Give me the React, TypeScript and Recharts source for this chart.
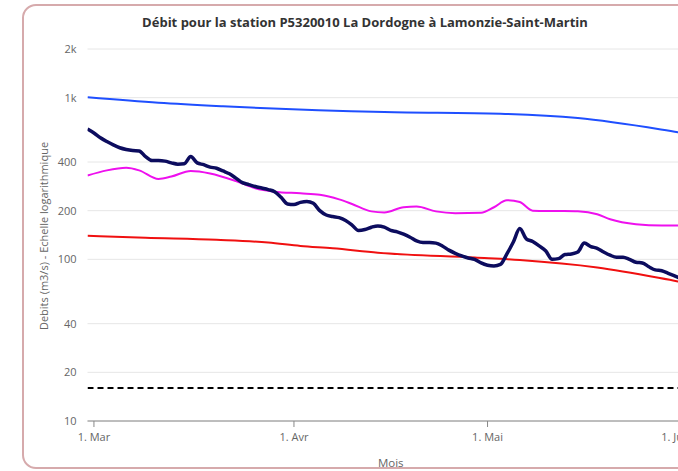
import { LineChart, Line, XAxis, YAxis, CartesianGrid } from "recharts";

// axe X : jours depuis le 1er mars (-1 = 29 fév.)
const monthTicks = [0, 31, 61, 92];
const monthLabels = ["1. Mar", "1. Avr", "1. Mai", "1. Juin"];
const yTicks = [10, 20, 40, 100, 200, 400, 1000, 2000];

// débit observé, journalier à partir du 29 février
const debitValues = [
  640, 605, 565, 535, 510, 490, 478, 471, 468, 432,
  408, 408, 405, 395, 388, 390, 432, 395, 385, 372,
  366, 352, 338, 318, 298, 290, 282, 276, 270, 262,
  242, 220, 218, 225, 228, 222, 200, 188, 184, 181,
  174, 163, 151, 153, 158, 161, 158, 151, 148, 143,
  137, 130, 127, 127, 126, 121, 114, 109, 105, 102,
  100, 95, 92, 91, 93, 108, 128, 155, 134, 129,
  121, 113, 100, 101, 107, 108, 111, 126, 120, 117,
  111, 106, 103, 103, 100, 96, 95, 90, 86, 85,
  82, 79, 76, 74,
];

const hautDays = [-1, 10, 20, 45, 63, 75, 90.5, 93];
const hautValues = [1005, 930, 885, 815, 795, 748, 612, 590];

const moyenDays = [-1, 2, 5, 7, 10, 12, 15, 18, 22, 25, 28, 32, 35, 38, 40, 43, 45, 48, 50, 53, 56, 60, 62, 64, 66, 68, 72, 75, 78, 80, 84, 88, 93];
const moyenValues = [330, 355, 368, 355, 314, 325, 352, 340, 305, 275, 262, 256, 251, 235, 220, 198, 195, 210, 212, 198, 193, 194, 210, 232, 226, 200, 199, 198, 190, 177, 165, 162, 162];

const basDays = [-1, 8, 19, 27, 32, 37, 44, 59, 66, 78, 90.5, 93];
const basValues = [140, 136, 132, 127, 121, 117, 110, 102.5, 99, 89, 73, 70];

const seuilDays = [-1, 93];
const seuilValues = [16, 16];

const zip = (days: number[], values: number[]) => days.map((d, i) => ({ day: d, value: values[i] }));

const debitData = debitValues.map((v, i) => ({ day: i - 1, value: v }));
const hautData = zip(hautDays, hautValues);
const moyenData = zip(moyenDays, moyenValues);
const basData = zip(basDays, basValues);
const seuilData = zip(seuilDays, seuilValues);

const FONT = '"Open Sans", "Noto Sans", sans-serif';

function formatY(v: number): string {
  return v >= 1000 ? `${v / 1000}k` : String(v);
}

function formatX(v: number): string {
  const idx = monthTicks.indexOf(v);
  return idx >= 0 ? monthLabels[idx] : "";
}

// dernière étiquette recalée dans le graphique (comme le "justify" de l'original)
function MonthTick(props: any) {
  const { x, y, payload } = props;
  const last = payload.value === monthTicks[monthTicks.length - 1];
  return (
    <text
      x={last ? x + 5 : x}
      y={y + 10}
      textAnchor={last ? "end" : "middle"}
      fontSize={11}
      fill="#666"
      fontFamily={FONT}
    >
      {formatX(payload.value)}
    </text>
  );
}

export default function App() {
  return (
    <div style={{ position: "absolute", left: 0, top: 0, width: 678, height: 471, overflow: "hidden", background: "#fff", fontFamily: FONT }}>
      <div
        style={{
          position: "absolute",
          left: 22,
          top: 4,
          width: 740,
          height: 465,
          border: "2px solid #d6aaac",
          borderRadius: 14,
          boxSizing: "border-box",
          background: "#fff",
        }}
      >
        <div
          style={{
            position: "absolute",
            left: 0,
            top: 8,
            width: 682,
            textAlign: "center",
            fontSize: 13,
            fontWeight: 700,
            color: "#333",
            lineHeight: "17px",
          }}
        >
          Débit pour la station P5320010 La Dordogne à Lamonzie-Saint-Martin
        </div>
        <div style={{ position: "absolute", left: 0, top: 0 }}>
          <LineChart width={690} height={464} margin={{ top: 43, right: 20, bottom: 4, left: 0 }}>
            <CartesianGrid horizontal vertical={false} stroke="#e6e6e6" />
            <XAxis
              type="number"
              dataKey="day"
              domain={[-1, 93]}
              ticks={monthTicks}
              interval={0}
              height={45}
              stroke="#888"
              tickSize={6}
              tickMargin={4}
              tick={<MonthTick />}
              allowDataOverflow
              label={(p: any) => {
                const vb = p.viewBox || { x: 63.5, y: 415, width: 606.5 };
                return (
                  <text x={vb.x + vb.width / 2} y={vb.y + 41} textAnchor="middle" dominantBaseline="central" fontSize={11.5} fill="#666" fontFamily={FONT}>
                    Mois
                  </text>
                );
              }}
            />
            <YAxis
              type="number"
              scale="log"
              domain={[10, 2000]}
              ticks={yTicks}
              interval={0}
              allowDataOverflow
              width={63.5}
              axisLine={false}
              tickLine={false}
              tickSize={0}
              tickMargin={11}
              tickFormatter={formatY}
              tick={{ fontSize: 11, fill: "#666", fontFamily: FONT }}
              label={(p: any) => {
                const vb = p.viewBox || { x: 0, y: 43, height: 372 };
                const cx = 19;
                const cy = vb.y + vb.height / 2 + 1;
                return (
                  <text x={cx} y={cy} transform={`rotate(-90, ${cx}, ${cy})`} textAnchor="middle" dominantBaseline="central" fontSize={11} fill="#666" fontFamily={FONT}>
                    Debits (m3/s) - Echelle logarithmique
                  </text>
                );
              }}
            />
            <Line data={seuilData} dataKey="value" type="linear" stroke="#000" strokeWidth={2} strokeDasharray="6 4" dot={false} isAnimationActive={false} />
            <Line data={hautData} dataKey="value" type="monotone" stroke="#1f4fff" strokeWidth={2} dot={false} isAnimationActive={false} />
            <Line data={basData} dataKey="value" type="monotone" stroke="#f01010" strokeWidth={2} dot={false} isAnimationActive={false} />
            <Line data={moyenData} dataKey="value" type="monotone" stroke="#ee10ee" strokeWidth={2} dot={false} isAnimationActive={false} />
            <Line data={debitData} dataKey="value" type="monotone" stroke="#0c0c5e" strokeWidth={3.5} dot={false} isAnimationActive={false} />
          </LineChart>
        </div>
      </div>
    </div>
  );
}
